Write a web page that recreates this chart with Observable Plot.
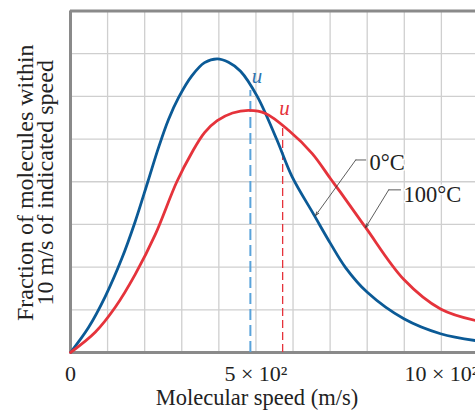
<!DOCTYPE html>
<html><head><meta charset="utf-8">
<script src="https://cdn.jsdelivr.net/npm/d3@7"></script>
<script src="https://cdn.jsdelivr.net/npm/@observablehq/plot@0.6"></script>
<style>html,body{margin:0;padding:0;background:#fff}</style>
</head><body><div id="chart"></div>
<script>
// 0 °C curve (speed in m/s, fraction in grid units)
const speed0 = [0, 48.5, 93.6, 138.3, 174.5, 208.5, 237.3, 264.3, 291.3, 327.1, 361.4, 395.6, 426.1, 458.5, 503.5, 555.6, 597.4, 656.1, 701.2, 741.6, 800.2, 898.9, 997.8, 1092.2];
const frac0  = [0, 0.585, 1.31, 2.20, 3.07, 4.00, 4.80, 5.46, 5.97, 6.48, 6.79, 6.88, 6.80, 6.59, 6.00, 5.00, 4.12, 3.23, 2.55, 1.99, 1.41, 0.79, 0.44, 0.28];
// 100 °C curve
const speed100 = [0, 66.6, 120.6, 174.5, 228.4, 286.7, 327.1, 361.4, 395.6, 436.9, 480.9, 525.9, 588.7, 651.8, 701.2, 728.2, 795.6, 898.9, 997.8, 1092.2];
const frac100  = [0, 0.475, 1.06, 1.83, 2.76, 4.00, 4.68, 5.15, 5.43, 5.61, 5.67, 5.60, 5.20, 4.66, 4.07, 3.75, 2.93, 1.71, 1.02, 0.75];
// rms speeds (u) and the heights where the dashed markers stop
const rmsSpeed = [485, 572];
const rmsTop = [6.14, 5.32];
const rmsLabelPos = [[503, 6.48], [577, 5.72]];
// axis ticks
const xTicks = [0, 500, 1000];
const xTickLabels = ["0", "5 × 10²", "10 × 10²"];
const xGrid = [100, 200, 300, 400, 500, 600, 700, 800, 900, 1000];
const yGrid = [1, 2, 3, 4, 5, 6, 7];
// series labels and leader lines
const seriesNames = ["0°C", "100°C"];
const seriesLabelPos = [[806, 4.45], [898, 3.70]];
const leaderLines = [
  [[796, 4.51], [769, 4.51], [661, 3.21]],
  [[890, 3.81], [858, 3.81], [796, 2.93]]
];

const blue = "#0b5a96", red = "#e5333b", lightBlue = "#5aa3da";
const serif = "Liberation Serif, Times New Roman, serif";

const curve0 = speed0.map((s, i) => ({s, f: frac0[i]}));
const curve100 = speed100.map((s, i) => ({s, f: frac100[i]}));

const leaderSeg = leaderLines.map(pts => pts.slice(0, 2).map(([s, f]) => ({s, f})));
const arrows = leaderLines.map(pts => ({x1: pts[1][0], y1: pts[1][1], x2: pts[2][0], y2: pts[2][1]}));
const ticks = xTicks.map((v, i) => ({v, label: xTickLabels[i]}));

const plot = Plot.plot({
  width: 475,
  height: 411,
  marginLeft: 70,
  marginRight: 0,
  marginTop: 10.5,
  marginBottom: 59,
  style: {fontFamily: serif, background: "#fff", color: "#222"},
  x: {domain: [0, 1092], axis: null},
  y: {domain: [0, 8], axis: null},
  marks: [
    Plot.gridX(xGrid, {stroke: "#cfcfcf", strokeOpacity: 1, strokeWidth: 1.3}),
    Plot.gridY(yGrid, {stroke: "#cfcfcf", strokeOpacity: 1, strokeWidth: 1.3}),
    Plot.ruleX([0], {stroke: "#8a8a8a", strokeWidth: 3}),
    Plot.ruleY([0, 8], {stroke: "#8a8a8a", strokeWidth: 3}),
    // rms speed markers
    Plot.ruleX([0], {x: rmsSpeed[0], y1: 0, y2: rmsTop[0], stroke: lightBlue, strokeWidth: 2, strokeDasharray: "11,5"}),
    Plot.ruleX([0], {x: rmsSpeed[1], y1: 0, y2: rmsTop[1], stroke: red, strokeWidth: 1.3, strokeDasharray: "8,4"}),
    // curves
    Plot.line(curve0, {x: "s", y: "f", stroke: blue, strokeWidth: 2.8, curve: "catmull-rom"}),
    Plot.line(curve100, {x: "s", y: "f", stroke: red, strokeWidth: 2.8, curve: "catmull-rom"}),
    // u labels
    Plot.text(rmsLabelPos, {x: d => d[0], y: d => d[1], text: () => "u", fill: (d, i) => i === 0 ? "#2f74b0" : red,
      fontStyle: "italic", fontSize: 21, fontFamily: serif}),
    // leader lines
    Plot.line(leaderSeg[0], {x: "s", y: "f", stroke: "#333", strokeWidth: 0.8}),
    Plot.line(leaderSeg[1], {x: "s", y: "f", stroke: "#333", strokeWidth: 0.8}),
    Plot.arrow(arrows, {x1: "x1", y1: "y1", x2: "x2", y2: "y2", stroke: "#333", strokeWidth: 0.8, headLength: 7, headAngle: 40}),
    Plot.text(seriesLabelPos, {x: d => d[0], y: d => d[1], text: (d, i) => seriesNames[i], textAnchor: "start",
      fontSize: 22.5, fill: "#222", stroke: "white", strokeWidth: 3, fontFamily: serif}),
    // x tick labels
    Plot.text(ticks, {x: "v", frameAnchor: "bottom", text: "label", lineAnchor: "top",
      dy: 13, fontSize: 22, fill: "#222", textAnchor: "middle"}),
    // axis labels
    Plot.text(["Molecular speed (m/s)"], {frameAnchor: "bottom", dx: -16, dy: 52, fontSize: 22.5, fill: "#222"}),
    Plot.text(["Fraction of molecules within"], {frameAnchor: "left", textAnchor: "middle", rotate: -90, dx: -45, dy: 1, fontSize: 24, fill: "#222"}),
    Plot.text(["10 m/s of indicated speed"], {frameAnchor: "left", textAnchor: "middle", rotate: -90, dx: -25, dy: 1, fontSize: 24, fill: "#222"})
  ]
});
document.getElementById("chart").appendChild(plot);
</script>
</body></html>
